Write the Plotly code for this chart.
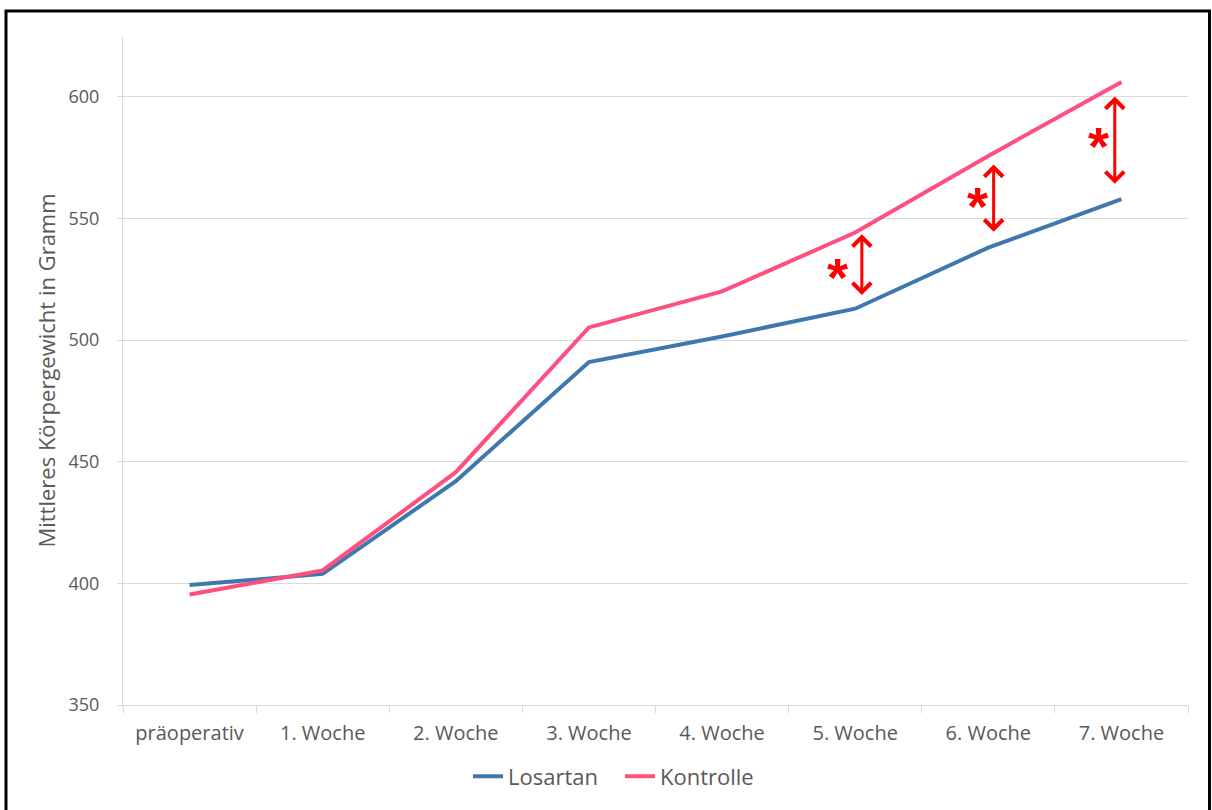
import plotly.graph_objects as go

# Mean body weight per group over time
categories = ["präoperativ", "1. Woche", "2. Woche", "3. Woche",
              "4. Woche", "5. Woche", "6. Woche", "7. Woche"]
losartan = [399.3, 403.9, 442.0, 491.0, 501.5, 512.9, 538.0, 557.9]
kontrolle = [395.4, 405.3, 445.7, 505.2, 520.0, 544.2, 575.7, 606.1]

y_ticks = [350, 400, 450, 500, 550, 600]

# Significance markers: arrow position, arrow top, arrow bottom
sig_pos = [5.05, 6.04, 6.95]
sig_top = [543.5, 572.2, 600.1]
sig_bottom = [517.9, 543.9, 563.6]
# asterisk positions next to each arrow
star_pos = [4.87, 5.915, 6.825]
star_y = [528.7, 557.9, 582.6]

BLUE = "#3F78AD"
PINK = "#FF4F7E"
GREY_TEXT = "#595959"
GRID = "#D9D9D9"
FONT = "Open Sans"

# plot-area geometry in pixels (for the frame drawn around the chart)
W, H = 1212, 810
L, R, T, B = 123, 24, 36, 104.5
pw, ph = W - L - R, H - T - B


def px_to_paper_x(px):
    return (px - L) / pw


def px_to_paper_y(py):
    return (H - B - py) / ph


fig = go.Figure()
fig.add_trace(go.Scatter(x=categories, y=losartan, mode="lines", name="Losartan",
                         line=dict(color=BLUE, width=4)))
fig.add_trace(go.Scatter(x=categories, y=kontrolle, mode="lines", name="Kontrolle",
                         line=dict(color=PINK, width=4)))

annotations = []
for xp, yt, yb in zip(sig_pos, sig_top, sig_bottom):
    annotations.append(dict(
        x=xp, y=yt, ax=xp, ay=yb, xref="x", yref="y", axref="x", ayref="y",
        text="", showarrow=True, arrowhead=4, startarrowhead=4,
        arrowside="end+start", arrowsize=1.2, startarrowsize=1.2,
        arrowwidth=3, arrowcolor="#FF0000", standoff=0, startstandoff=0,
    ))
for xs, ys in zip(star_pos, star_y):
    annotations.append(dict(
        x=xs, y=ys, xref="x", yref="y", text="<b>*</b>",
        showarrow=False, xanchor="center", yanchor="middle", yshift=-7,
        font=dict(family="Arial", size=54, color="#FF0000"),
    ))

fig.update_layout(
    width=W, height=H,
    margin=dict(l=L, r=R, t=T, b=B),
    paper_bgcolor="white", plot_bgcolor="white",
    font=dict(family=FONT, size=18, color=GREY_TEXT),
    showlegend=True,
    legend=dict(orientation="h", x=px_to_paper_x(468), y=px_to_paper_y(777),
                xanchor="left", yanchor="middle",
                font=dict(family=FONT, size=22, color=GREY_TEXT),
                entrywidth=107, entrywidthmode="pixels",
                itemwidth=30, tracegroupgap=0),
    xaxis=dict(
        type="category", range=[-0.5, len(categories) - 0.5],
        showgrid=False, showline=True, linecolor=GRID, linewidth=1,
        ticks="outside", tickson="boundaries", ticklen=7, tickcolor=GRID,
        tickfont=dict(family=FONT, size=20, color=GREY_TEXT),
        ticklabelstandoff=10, zeroline=False,
    ),
    yaxis=dict(
        range=[350, 625], tickvals=y_ticks,
        showgrid=True, gridcolor=GRID, gridwidth=1,
        showline=True, linecolor=GRID, linewidth=1,
        ticks="outside", ticklen=5, tickcolor=GRID,
        tickfont=dict(family=FONT, size=18, color=GREY_TEXT),
        ticklabelstandoff=14, zeroline=False,
        title=dict(text="Mittleres Körpergewicht in Gramm",
                   font=dict(family=FONT, size=22, color=GREY_TEXT), standoff=6),
    ),
    annotations=annotations,
    shapes=[dict(type="rect", xref="paper", yref="paper",
                 x0=px_to_paper_x(6), x1=px_to_paper_x(1209.5),
                 y0=px_to_paper_y(11), y1=px_to_paper_y(820),
                 line=dict(color="black", width=3), fillcolor="rgba(0,0,0,0)",
                 layer="above")],
)

fig.write_html("out.html")
